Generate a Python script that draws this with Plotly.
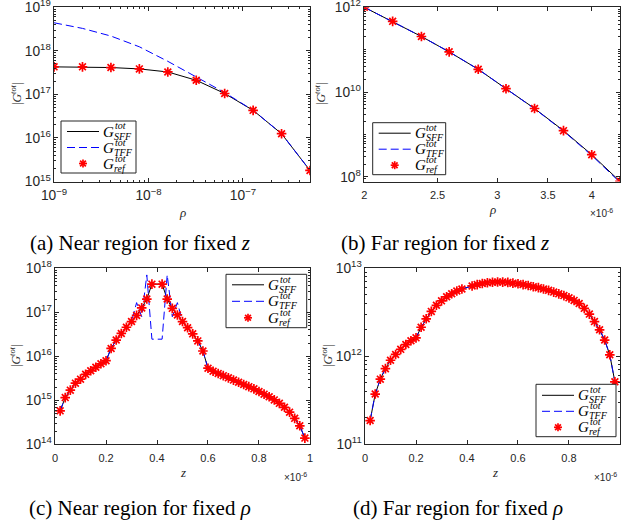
import plotly.graph_objects as go

# ---------------- data ----------------
# (a) Near region for fixed z
rho_a = [1e-9, 2e-9, 4e-9, 8e-9, 1.6e-8, 3.2e-8, 6.4e-8, 1.28e-7, 2.56e-7, 5.12e-7]
sff_a = [4.29e17, 4.29e17, 4.14e17, 3.85e17, 3.28e17, 2.11e17, 1.05e17, 4.3e16, 1.25e16, 1.79e15]
tff_a = [4.42e18, 3.28e18, 2.19e18, 1.24e18, 5.75e17, 2.51e17, 1.10e17, 4.3e16, 1.25e16, 1.79e15]
ref_a = [4.29e17, 4.29e17, 4.14e17, 3.85e17, 3.28e17, 2.11e17, 1.05e17, 4.3e16, 1.25e16, 1.79e15]

# (b) Far region for fixed z
rho_b = [2.00e-6, 2.18e-6, 2.38e-6, 2.59e-6, 2.83e-6, 3.08e-6, 3.36e-6, 3.67e-6, 4.00e-6, 4.36e-6]
sff_b = [1.0e12, 4.66e11, 2.05e11, 8.89e10, 3.45e10, 1.20e10, 4.10e9, 1.23e9, 3.33e8, 7.8e7]
tff_b = [1.0e12, 4.66e11, 2.05e11, 8.89e10, 3.45e10, 1.20e10, 4.05e9, 1.20e9, 3.20e8, 7.4e7]
ref_b = [1.0e12, 4.66e11, 2.05e11, 8.89e10, 3.45e10, 1.20e10, 4.10e9, 1.23e9, 3.33e8, 7.8e7]

# (c)/(d) z samples (source point 0.4e-6 excluded)
z_cd = [0.02e-6, 0.04e-6, 0.06e-6, 0.08e-6, 0.10e-6, 0.12e-6, 0.14e-6, 0.16e-6, 0.18e-6, 0.20e-6,
        0.22e-6, 0.24e-6, 0.26e-6, 0.28e-6, 0.30e-6, 0.32e-6, 0.34e-6, 0.36e-6, 0.38e-6,
        0.42e-6, 0.44e-6, 0.46e-6, 0.48e-6, 0.50e-6, 0.52e-6, 0.54e-6, 0.56e-6, 0.58e-6, 0.60e-6,
        0.62e-6, 0.64e-6, 0.66e-6, 0.68e-6, 0.70e-6, 0.72e-6, 0.74e-6, 0.76e-6, 0.78e-6, 0.80e-6,
        0.82e-6, 0.84e-6, 0.86e-6, 0.88e-6, 0.90e-6, 0.92e-6, 0.94e-6, 0.96e-6, 0.98e-6]

# (c) Near region for fixed rho
sff_c = [5.75e14, 1.15e15, 1.70e15, 2.45e15, 3.02e15, 3.89e15, 4.68e15, 5.62e15, 6.76e15, 7.94e15,
         1.51e16, 2.34e16, 3.31e16, 4.57e16, 6.17e16, 8.51e16, 1.26e17, 2.00e17, 4.37e17,
         4.37e17, 2.00e17, 1.23e17, 8.71e16, 6.17e16, 4.47e16, 3.24e16, 2.24e16, 1.32e16, 5.37e15,
         4.57e15, 4.07e15, 3.63e15, 3.24e15, 2.88e15, 2.57e15, 2.29e15, 2.04e15, 1.82e15, 1.58e15,
         1.38e15, 1.20e15, 1.02e15, 8.51e14, 6.92e14, 5.37e14, 3.89e14, 2.63e14, 1.38e14]
tff_c = [5.75e14, 1.15e15, 1.70e15, 2.45e15, 3.02e15, 3.89e15, 4.68e15, 5.62e15, 6.76e15, 7.94e15,
         1.51e16, 2.34e16, 3.31e16, 4.57e16, 6.17e16, 1.66e17, 7.94e16, 7.08e17, 2.45e16,
         2.45e16, 7.08e17, 7.94e16, 1.66e17, 6.17e16, 4.47e16, 3.24e16, 2.24e16, 1.32e16, 5.37e15,
         4.57e15, 4.07e15, 3.63e15, 3.24e15, 2.88e15, 2.57e15, 2.29e15, 2.04e15, 1.82e15, 1.58e15,
         1.38e15, 1.20e15, 1.02e15, 8.51e14, 6.92e14, 5.37e14, 3.89e14, 2.63e14, 1.38e14]
ref_c = list(sff_c)

# (d) Far region for fixed rho
sff_d = [1.86e11, 3.72e11, 5.50e11, 7.24e11, 9.02e11, 1.05e12, 1.20e12, 1.36e12, 1.50e12, 1.62e12,
         2.14e12, 2.67e12, 3.24e12, 3.80e12, 4.27e12, 4.75e12, 5.14e12, 5.52e12, 5.82e12,
         6.31e12, 6.53e12, 6.73e12, 6.87e12, 6.95e12, 7.00e12, 6.98e12, 6.92e12, 6.79e12, 6.68e12,
         6.53e12, 6.38e12, 6.17e12, 6.03e12, 5.82e12, 5.62e12, 5.37e12, 5.13e12, 4.90e12, 4.62e12,
         4.32e12, 3.98e12, 3.51e12, 3.02e12, 2.48e12, 2.00e12, 1.53e12, 1.04e12, 5.13e11]
tff_d = list(sff_d)
ref_d = list(sff_d)

# captions / labels
captions = ["(a) Near region for fixed <i>z</i>", "(b) Far region for fixed <i>z</i>",
            "(c) Near region for fixed <i>ρ</i>", "(d) Far region for fixed <i>ρ</i>"]
series_subs = ["SFF", "TFF", "ref"]
x_titles = ["ρ", "ρ", "z", "z"]

# ---------------- figure ----------------
W, H = 621, 527
AX = "#262626"
RED = "#ff0000"
BLUE = "#0000ff"
DASH = "8px,4px"
fig = go.Figure()

def PX(x):
    return x / W

def PY(y):
    return 1 - y / H

panels = [
    (rho_a, sff_a, tff_a, ref_a, "x", "y"),
    (rho_b, sff_b, tff_b, ref_b, "x2", "y2"),
    (z_cd, sff_c, tff_c, ref_c, "x3", "y3"),
    (z_cd, sff_d, tff_d, ref_d, "x4", "y4"),
]
for xs, s, t, r, xa, ya in panels:
    fig.add_trace(go.Scatter(x=xs, y=s, mode="lines", xaxis=xa, yaxis=ya, showlegend=False,
                             line=dict(color="black", width=1)))
    fig.add_trace(go.Scatter(x=xs, y=t, mode="lines", xaxis=xa, yaxis=ya, showlegend=False,
                             line=dict(color=BLUE, width=1, dash=DASH)))
    fig.add_trace(go.Scatter(x=xs, y=r, mode="markers", xaxis=xa, yaxis=ya, showlegend=False,
                             marker=dict(symbol="asterisk", size=8, color=RED,
                                         line=dict(color=RED, width=1.7))))

def px_dom(a, b, total, flip=False):
    if flip:
        return [1 - b / total, 1 - a / total]
    return [a / total, b / total]

tickfont = dict(family="Liberation Sans, Arial", size=11, color=AX)
common = dict(showline=True, linecolor=AX, linewidth=1, mirror="ticks", ticks="inside",
              ticklen=4, tickcolor=AX, tickwidth=1, showgrid=False, zeroline=False,
              tickfont=tickfont, automargin=False, ticklabeloverflow="allow")
minor_log = dict(ticks="inside", ticklen=2, tickcolor=AX, dtick="D1", showgrid=False)
zticks = [0, 2e-7, 4e-7, 6e-7, 8e-7, 1e-6]
zlabels_c = ["0", "0.2", "0.4", "0.6", "0.8", "1"]
zlabels_d = ["0", "0.2", "0.4", "0.6", "0.8", ""]
EPS = 0.0005

fig.update_layout(
    width=W, height=H, margin=dict(l=0, r=0, t=0, b=0),
    paper_bgcolor="white", plot_bgcolor="white", showlegend=False,
    xaxis=dict(domain=px_dom(54, 310, W), anchor="y", type="log", range=[-9 - EPS, -6.2907],
               dtick=1, exponentformat="power", minor=minor_log, ticklabelstandoff=2, **common),
    yaxis=dict(domain=px_dom(7.3, 181.5, H, True), anchor="x", type="log",
               range=[15 - EPS, 19 + EPS],
               dtick=1, exponentformat="power", minor=minor_log, **common),
    xaxis2=dict(domain=px_dom(364, 620, W), anchor="y2", type="log",
                range=[-5.69897 - EPS, -5.36051],
                tickvals=[2e-6, 2.5e-6, 3e-6, 3.5e-6, 4e-6], ticktext=["2", "2.5", "3", "3.5", "4"],
                ticklabelstandoff=3, **common),
    yaxis2=dict(domain=px_dom(7.3, 181.5, H, True), anchor="x2", type="log",
                range=[7.89, 12.0 + EPS],
                dtick=2, exponentformat="power", minor=minor_log, **common),
    xaxis3=dict(domain=px_dom(55, 310, W), anchor="y3", range=[-1e-10, 1.0001e-6],
                tickvals=zticks, ticktext=zlabels_c, ticklabelstandoff=3, **common),
    yaxis3=dict(domain=px_dom(268.3, 444.3, H, True), anchor="x3", type="log",
                range=[14 - EPS, 18 + EPS],
                dtick=1, exponentformat="power", minor=minor_log, **common),
    xaxis4=dict(domain=px_dom(365, 620, W), anchor="y4", range=[-1e-10, 1.0001e-6],
                tickvals=zticks, ticktext=zlabels_d, ticklabelstandoff=3, **common),
    yaxis4=dict(domain=px_dom(268.3, 444.3, H, True), anchor="x4", type="log",
                range=[11 - EPS, 13 + EPS],
                dtick=1, exponentformat="power", minor=minor_log, **common),
)

serif = "Liberation Serif, Times New Roman"

# axis titles (as annotations for exact placement)
xt_pos = [(183, 212), (492, 210), (183, 472), (495, 472)]
for txt, (x, y) in zip(x_titles, xt_pos):
    fig.add_annotation(text="<i>%s</i>" % txt, x=PX(x), y=PY(y), xref="paper", yref="paper",
                       showarrow=False, xanchor="center", yanchor="middle",
                       font=dict(family=serif, size=13, color=AX))
yt_pos = [(17, 94), (321, 94), (15, 356), (327, 356)]
for (x, y) in yt_pos:
    fig.add_annotation(text="|<i>G</i><sup><i>tot</i></sup>|", x=PX(x), y=PY(y), xref="paper",
                       yref="paper", showarrow=False, xanchor="center", yanchor="middle",
                       textangle=-90, font=dict(family=serif, size=12, color=AX))

# legends (box, line samples, marker sample, stacked super/subscripts)
def add_legend(L, T, Wd, Hd, rows):
    fig.add_shape(type="rect", xref="paper", yref="paper", x0=PX(L), x1=PX(L + Wd),
                  y0=PY(T + Hd), y1=PY(T), line=dict(color=AX, width=1), fillcolor="white",
                  layer="above")
    r0, r1, r2 = [T + r for r in rows]
    fig.add_shape(type="line", xref="paper", yref="paper", x0=PX(L + 6), x1=PX(L + 38),
                  y0=PY(r0), y1=PY(r0), line=dict(color="black", width=1), layer="above")
    fig.add_shape(type="line", xref="paper", yref="paper", x0=PX(L + 6), x1=PX(L + 38),
                  y0=PY(r1), y1=PY(r1), line=dict(color=BLUE, width=1, dash=DASH),
                  layer="above")
    cx, cy, s = L + 22, r2, 4.0
    for dx, dy in [(s, 0), (0, s), (s * 0.72, s * 0.72), (s * 0.72, -s * 0.72)]:
        fig.add_shape(type="line", xref="paper", yref="paper", x0=PX(cx - dx), x1=PX(cx + dx),
                      y0=PY(cy - dy), y1=PY(cy + dy), line=dict(color=RED, width=1.7),
                      layer="above")
    for sub, ry in zip(series_subs, [r0, r1, r2]):
        fig.add_annotation(text="<i>G</i>", x=PX(L + 41), y=PY(ry), xref="paper", yref="paper",
                           showarrow=False, xanchor="left", yanchor="middle", borderpad=0,
                           font=dict(family=serif, size=15, color="black"))
        fig.add_annotation(text="<i>tot</i>", x=PX(L + 52.5), y=PY(ry - 5.5), xref="paper",
                           yref="paper", showarrow=False, xanchor="left", yanchor="middle",
                           borderpad=0, font=dict(family=serif, size=10, color="black"))
        fig.add_annotation(text="<i>%s</i>" % sub, x=PX(L + 52), y=PY(ry + 4.5), xref="paper",
                           yref="paper", showarrow=False, xanchor="left", yanchor="middle",
                           borderpad=0, font=dict(family=serif, size=10, color="black"))

add_legend(61, 121, 75, 52, [10.5, 26.5, 42.5])
add_legend(372.7, 122.7, 73, 52, [10.5, 26.5, 42.5])
add_legend(226, 274.3, 80.7, 53.4, [10.5, 27, 43.5])
add_legend(536, 384.3, 80, 52.4, [11, 27, 43])

cap_font = dict(family=serif, size=21, color="black")
caps = [(140, 243), (445, 243), (140, 508), (458, 508)]
for txt, (cx, cy) in zip(captions, caps):
    fig.add_annotation(text=txt, x=PX(cx), y=PY(cy), xref="paper", yref="paper",
                       showarrow=False, font=cap_font, xanchor="center", yanchor="middle")

mult_font = dict(family="Liberation Sans, Arial", size=10, color=AX)
for (mx, my) in [(588, 213), (282, 477), (592, 477)]:
    fig.add_annotation(text="×10<sup>-6</sup>", x=PX(mx), y=PY(my), xref="paper", yref="paper",
                       showarrow=False, font=mult_font, xanchor="left", yanchor="middle")

fig.write_html("out.html", config={"displayModeBar": False},
               post_script="document.body.style.margin='0';document.body.style.overflow='hidden';")
